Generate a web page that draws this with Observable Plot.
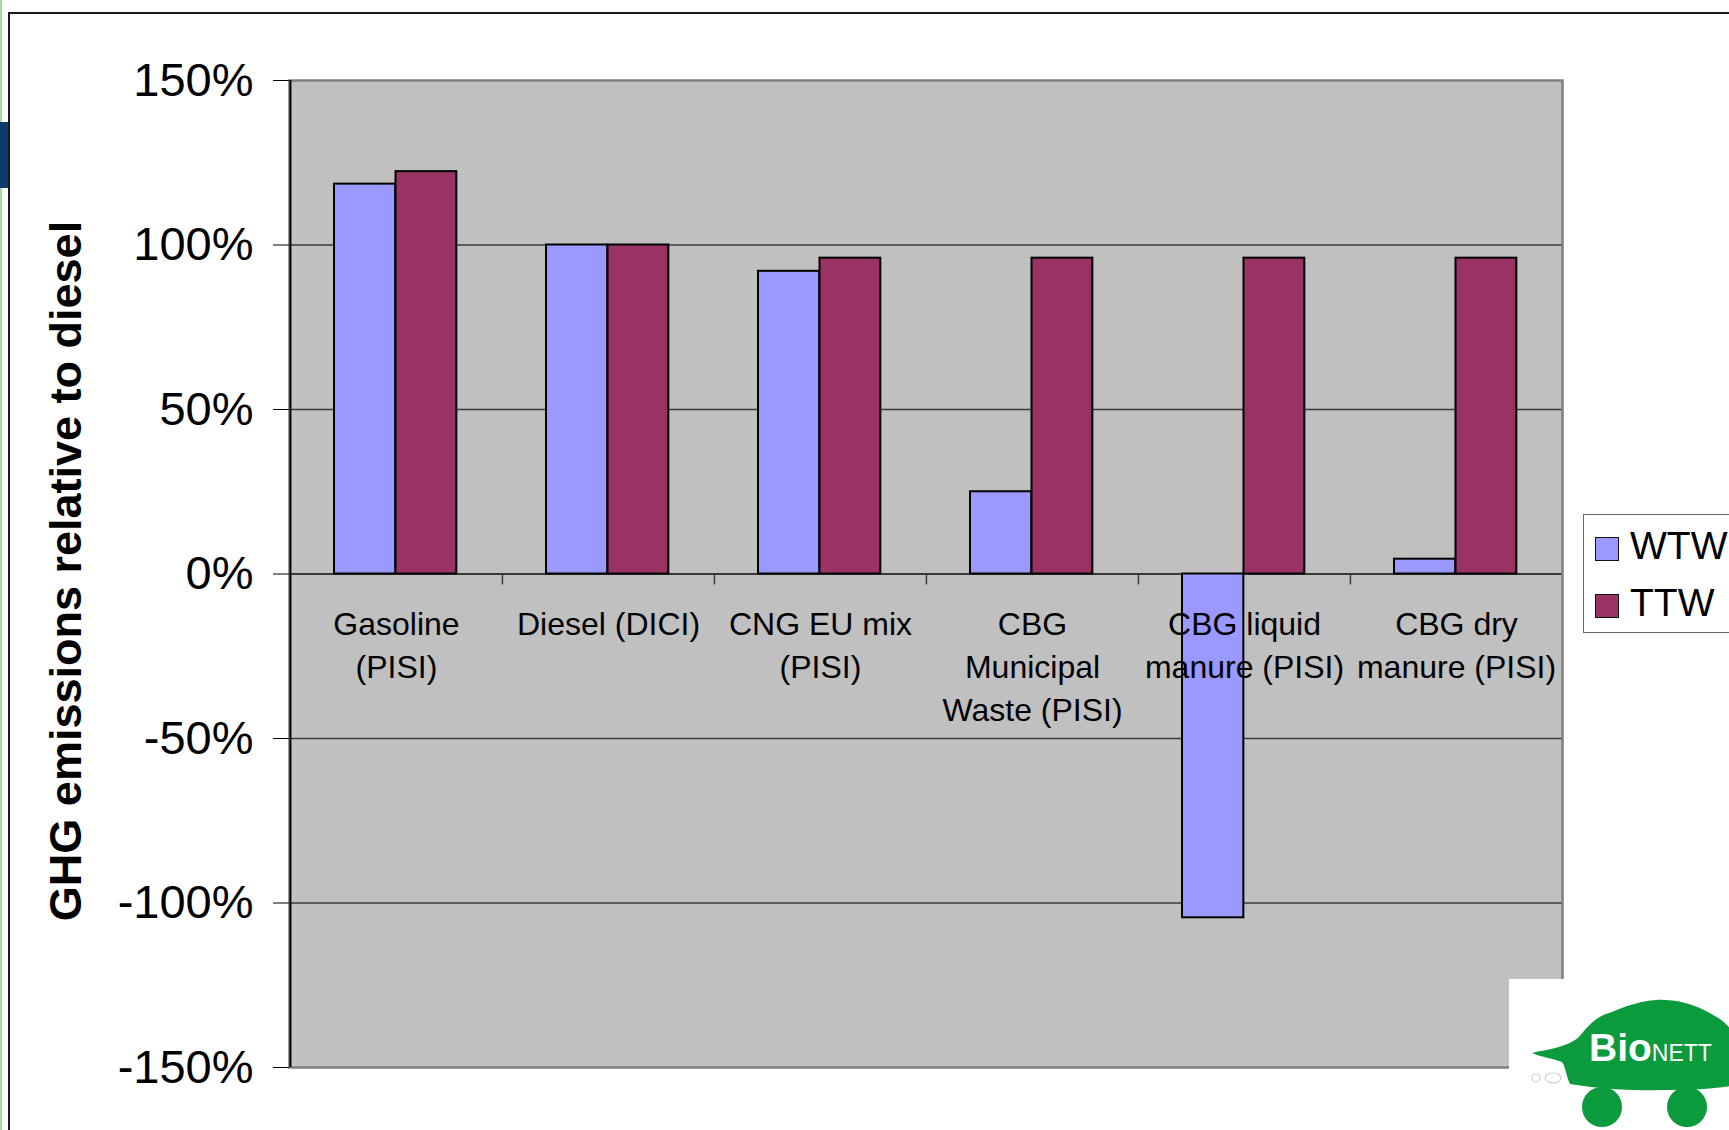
<!DOCTYPE html>
<html>
<head>
<meta charset="utf-8">
<script src="https://cdn.jsdelivr.net/npm/d3@7"></script>
<script src="https://cdn.jsdelivr.net/npm/@observablehq/plot@0.6"></script>
<style>
  html, body { margin: 0; padding: 0; background: #fff; }
  #page { position: relative; width: 1729px; height: 1130px; overflow: hidden; background: #fff;
          font-family: "Liberation Sans", Arial, sans-serif; }
  #chart { position: absolute; left: 0; top: 0; }
  .deco { position: absolute; }
  #legend { position: absolute; left: 1583px; top: 514px; width: 170px; height: 117px;
            border: 1.5px solid #666; background: #fff; }
  .lg-item { position: absolute; left: 11px; height: 40px; display: flex; align-items: center; }
  .lg-sw { width: 22px; height: 22px; border: 1.5px solid #111; }
  .lg-tx { margin-left: 11px; font-size: 39px; color: #000; line-height: 40px; position: relative; top: -3px; }
</style>
</head>
<body>
<div id="page">
  <div id="chart"></div>
</div>
<script>
// ---- data ----
const categories = ["Gasoline\n(PISI)", "Diesel (DICI)", "CNG EU mix\n(PISI)", "CBG\nMunicipal\nWaste (PISI)", "CBG liquid\nmanure (PISI)", "CBG dry\nmanure (PISI)"];
const wtw = [118.5, 100, 92, 25, -104.5, 4.5];
const ttw = [122.3, 100, 96, 96, 96, 96];
const series = ["WTW", "TTW"];
const seriesColors = ["#9999ff", "#993366"];
const yTicks = [-150, -100, -50, 0, 50, 100, 150];
const gridTicks = [-100, -50, 50, 100];
const yTitle = "GHG emissions relative to diesel";

const rows = categories.flatMap((c, i) => [
  {category: c, series: series[0], value: wtw[i]},
  {category: c, series: series[1], value: ttw[i]}
]);

const W = 1729, H = 1130, mL = 289, mR = 167, mT = 80, mB = 63;
const bw = (W - mL - mR) / categories.length;

const chart = Plot.plot({
  width: W, height: H,
  marginLeft: mL, marginRight: mR, marginTop: mT, marginBottom: mB,
  style: {fontFamily: "'Liberation Sans', Arial, sans-serif", background: "transparent", color: "#000"},
  x: {domain: categories, padding: 0, axis: null},
  y: {domain: [-150, 150], axis: null},
  color: {domain: series, range: seriesColors},
  marks: [
    Plot.frame({fill: "#c0c0c0"}),
    Plot.gridY(gridTicks, {stroke: "#3a3a3a", strokeOpacity: 1, strokeWidth: 1.3}),
    Plot.ruleY([0], {stroke: "#3a3a3a", strokeWidth: 2}),
    Plot.ruleX(categories.slice(1), {x: d => d, y1: 0, y2: 0, insetTop: 0, insetBottom: -11, dx: -bw / 2, stroke: "#3a3a3a", strokeWidth: 1.5}),
    Plot.barY(rows.filter(d => d.series === series[0]), {x: "category", y: "value", fill: "series", stroke: "#000", strokeWidth: 2, insetLeft: 44, insetRight: bw - 105.5}),
    Plot.barY(rows.filter(d => d.series === series[1]), {x: "category", y: "value", fill: "series", stroke: "#000", strokeWidth: 2, insetLeft: 105.5, insetRight: bw - 166.5}),
    Plot.frame({stroke: "#808080", strokeWidth: 2.5}),
    Plot.ruleX([categories[0]], {x: d => d, dx: -bw / 2, stroke: "#000", strokeWidth: 2}),
    Plot.axisY(yTicks, {tickFormat: d => d + "%", tickSize: 16, tickPadding: 20, fontSize: 47, stroke: "#000", fill: "#000", label: null}),
    Plot.text(categories, {x: d => d, y: 0, text: d => d, lineAnchor: "top", dy: 31, fontSize: 32, lineHeight: 1.34, fill: "#000"}),
    Plot.text([yTitle], {frameAnchor: "left", textAnchor: "middle", text: d => d, rotate: -90, dx: -223, dy: -3, fontSize: 45, fontWeight: "bold", fill: "#000"})
  ]
});
document.getElementById("chart").appendChild(chart);

// ---- legend (HTML) ----
const page = document.getElementById("page");
const legend = document.createElement("div");
legend.id = "legend";
series.forEach((s, i) => {
  const item = document.createElement("div");
  item.className = "lg-item";
  item.style.top = (i === 0 ? 14 : 71) + "px";
  item.innerHTML = `<div class="lg-sw" style="background:${seriesColors[i]}"></div><div class="lg-tx">${s}</div>`;
  legend.appendChild(item);
});
page.appendChild(legend);

// ---- slide decorations ----
const deco = [
  {left: 0, top: 0, width: 2, height: 1130, background: "#a9d8a4"},
  {left: 8, top: 12, width: 2000, height: 2000, borderLeft: "2.5px solid #1a1a1a", borderTop: "2.5px solid #1a1a1a"},
  {left: 0, top: 122, width: 8, height: 66, background: "#0b3a6b"}
];
deco.forEach(s => {
  const d = document.createElement("div");
  d.className = "deco";
  Object.entries(s).forEach(([k, v]) => d.style[k] = typeof v === "number" ? v + "px" : v);
  page.appendChild(d);
});

// ---- logo ----
const ns = "http://www.w3.org/2000/svg";
const logo = document.createElementNS(ns, "svg");
logo.setAttribute("width", W); logo.setAttribute("height", H);
logo.style.position = "absolute"; logo.style.left = "0"; logo.style.top = "0";
logo.innerHTML = `
  <rect x="1509" y="979" width="230" height="160" fill="#fff"/>
  <path d="M1532,1053 C1548,1049 1565,1048 1578,1038 C1588,1026 1596,1016 1612,1012 C1626,1006 1640,1001 1656,1000 C1672,999 1690,1003 1704,1010 C1716,1016 1726,1022 1731,1030 L1731,1086 C1712,1089 1690,1090 1660,1090 C1630,1091 1600,1089 1570,1084 C1566,1076 1566,1068 1562,1062 C1552,1058 1540,1057 1532,1053 Z" fill="#0b9a3c"/>
  <circle cx="1602" cy="1107" r="20" fill="#0b9a3c"/>
  <circle cx="1687" cy="1107" r="20" fill="#0b9a3c"/>
  <circle cx="1536" cy="1078" r="4" fill="none" stroke="#ccc" stroke-width="1.2"/>
  <ellipse cx="1553" cy="1078" rx="8" ry="5" fill="none" stroke="#ccc" stroke-width="1.2"/>
  <text x="1589" y="1061" font-family="'Liberation Sans', Arial, sans-serif" fill="#fff"><tspan font-weight="bold" font-size="39">Bio</tspan><tspan font-size="23">NETT</tspan></text>
`;
page.appendChild(logo);
</script>
</body>
</html>
